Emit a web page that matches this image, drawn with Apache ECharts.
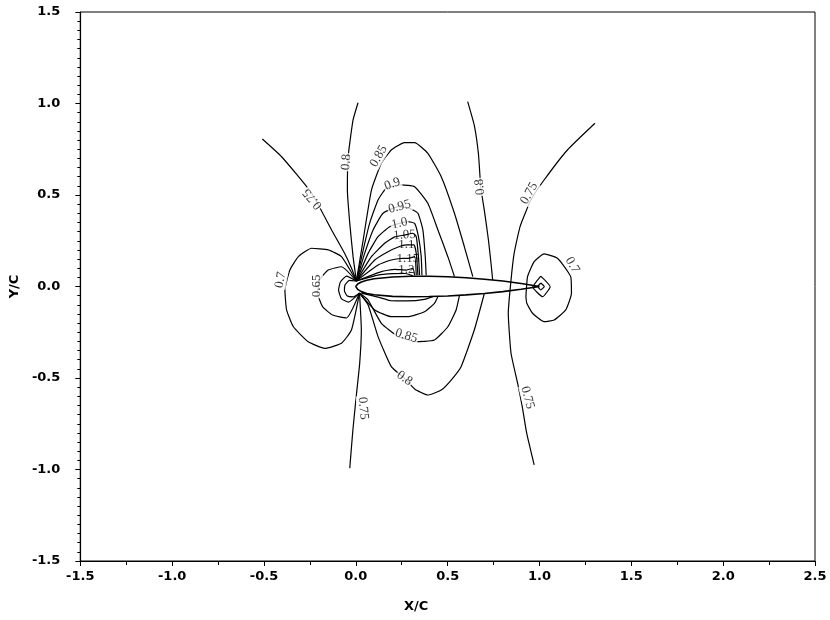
<!DOCTYPE html>
<html>
<head>
<meta charset="utf-8">
<script src="https://cdn.jsdelivr.net/npm/echarts/dist/echarts.min.js"></script>
<style>
  html, body { margin: 0; padding: 0; background: #fff; }
  #chart { width: 830px; height: 620px; }
</style>
</head>
<body>
<div id="chart"></div>
<script>
// axis ticks
var xTicks = [-1.5, 2.5, 0.5];
var yTicks = [-1.5, 1.5, 0.5];

// airfoil outline (TE -> upper -> LE -> lower -> TE)
var airfoil = [
  [1.0, 0], [0.9, 0.016], [0.8, 0.03], [0.7, 0.04], [0.6, 0.048], [0.5, 0.053], [0.4, 0.056],
  [0.3, 0.056], [0.2, 0.052], [0.1, 0.042], [0.06, 0.034], [0.03, 0.025], [0.01, 0.014], [0, 0],
  [0.01, -0.016], [0.03, -0.028], [0.06, -0.038], [0.1, -0.045], [0.2, -0.054], [0.3, -0.056],
  [0.4, -0.055], [0.5, -0.052], [0.6, -0.046], [0.7, -0.038], [0.8, -0.028], [0.9, -0.015], [1.0, 0]
];

// contour lines, upper side
var c075a = [[-0.509, 0.806], [-0.404, 0.709], [-0.241, 0.511], [-0.132, 0.309], [-0.062, 0.183], [-0.024, 0.101], [0.003, 0.03]];
var c080a = [[0.012, 1.004], [-0.015, 0.91], [-0.042, 0.709], [-0.046, 0.527], [-0.033, 0.345], [-0.015, 0.163], [0.003, 0.03]];
var c085a = [[0.003, 0.03], [0.04, 0.254], [0.085, 0.527], [0.139, 0.673], [0.193, 0.746], [0.265, 0.786], [0.32, 0.786],
  [0.392, 0.728], [0.465, 0.6], [0.537, 0.4], [0.591, 0.217], [0.637, 0.054]];
var c090a = [[0.003, 0.03], [0.04, 0.199], [0.075, 0.345], [0.121, 0.473], [0.166, 0.537], [0.247, 0.555], [0.32, 0.545],
  [0.392, 0.455], [0.447, 0.309], [0.501, 0.163], [0.537, 0.054]];
var c095a = [[0.003, 0.03], [0.048, 0.181], [0.094, 0.309], [0.148, 0.4], [0.23, 0.436], [0.293, 0.427], [0.338, 0.4],
  [0.365, 0.309], [0.378, 0.163], [0.383, 0.062]];
var c100a = [[0.003, 0.03], [0.067, 0.181], [0.121, 0.272], [0.182, 0.325], [0.238, 0.345], [0.284, 0.354], [0.32, 0.345],
  [0.341, 0.272], [0.356, 0.163], [0.36, 0.062]];
var c105a = [[0.003, 0.03], [0.085, 0.163], [0.157, 0.236], [0.209, 0.27], [0.265, 0.281], [0.311, 0.291], [0.329, 0.272],
  [0.341, 0.163], [0.347, 0.062]];
var c110a = [[0.003, 0.03], [0.103, 0.145], [0.175, 0.19], [0.231, 0.216], [0.275, 0.227], [0.316, 0.227], [0.329, 0.181],
  [0.338, 0.062]];
var c115a = [[0.003, 0.03], [0.121, 0.117], [0.193, 0.145], [0.242, 0.153], [0.284, 0.154], [0.32, 0.163], [0.329, 0.062]];
var c120a = [[0.003, 0.03], [0.139, 0.081], [0.211, 0.094], [0.275, 0.09], [0.311, 0.099], [0.32, 0.06]];
var c125a = [[0.003, 0.03], [0.12, 0.062], [0.2, 0.07], [0.27, 0.071], [0.31, 0.058]];
var c080c = [[0.609, 1.01], [0.645, 0.88], [0.668, 0.72], [0.68, 0.545], [0.702, 0.4], [0.722, 0.254], [0.736, 0.127], [0.745, 0.036]];
var c075c = [[1.302, 0.892], [1.152, 0.746], [1.025, 0.582], [0.953, 0.473], [0.895, 0.33], [0.862, 0.181], [0.845, 0.036],
  [0.83, -0.146], [0.845, -0.365], [0.881, -0.529], [0.905, -0.65], [0.93, -0.8], [0.971, -0.975]];

// contour lines, lower side
var c075b = [[0.02, -0.036], [0.03, -0.238], [0.021, -0.42], [0.003, -0.593], [-0.016, -0.784], [-0.033, -0.993]];
var c080b = [[0.02, -0.036], [0.067, -0.101], [0.121, -0.274], [0.193, -0.438], [0.265, -0.502], [0.32, -0.56], [0.392, -0.593],
  [0.465, -0.566], [0.519, -0.511], [0.573, -0.438], [0.645, -0.238], [0.7, -0.037]];
var c085b = [[0.02, -0.036], [0.067, -0.074], [0.139, -0.201], [0.23, -0.274], [0.275, -0.287], [0.32, -0.302], [0.428, -0.292],
  [0.501, -0.22], [0.546, -0.128], [0.564, -0.05]];
var c090b = [[0.02, -0.036], [0.103, -0.128], [0.193, -0.165], [0.284, -0.165], [0.374, -0.138], [0.428, -0.092], [0.447, -0.054]];
var c095b = [[0.03, -0.036], [0.121, -0.058], [0.193, -0.078], [0.284, -0.079], [0.374, -0.07], [0.42, -0.055]];

// loops round the leading edge
var c070L = [[0.003, 0.03], [-0.078, 0.163], [-0.15, 0.2], [-0.241, 0.209], [-0.313, 0.163], [-0.359, 0.09], [-0.386, -0.019],
  [-0.377, -0.128], [-0.34, -0.22], [-0.259, -0.302], [-0.169, -0.338], [-0.078, -0.31], [-0.024, -0.238], [0.02, -0.036]];
var c065L = [[0.003, 0.03], [-0.078, 0.108], [-0.15, 0.09], [-0.198, 0.036], [-0.208, -0.036], [-0.181, -0.11], [-0.127, -0.156],
  [-0.051, -0.172], [0.02, -0.036]];
var c060L = [[0.003, 0.03], [-0.051, 0.057], [-0.084, 0.025], [-0.094, -0.019], [-0.078, -0.068], [-0.04, -0.085], [0.02, -0.036]];
var c055L = [[0.003, 0.03], [-0.035, 0.033], [-0.059, 0.008], [-0.062, -0.025], [-0.046, -0.052], [-0.013, -0.057], [0.02, -0.036]];

// loops round the trailing edge
var c070R = [[0.926, -0.056], [0.935, 0.054], [0.971, 0.136], [1.025, 0.178], [1.098, 0.154], [1.17, 0.054], [1.174, -0.037],
  [1.143, -0.128], [1.08, -0.183], [1.025, -0.192], [0.962, -0.146], [0.931, -0.092], [0.926, -0.056]];
var c065R = [[1.007, 0.057], [1.058, -0.001], [1.017, -0.056], [0.964, -0.003], [1.007, 0.057]];
var c060R = [[1.007, 0.019], [1.026, 0], [1.007, -0.019], [0.991, 0], [1.007, 0.019]];

// contour labels
var labelText = ['0.75', '0.8', '0.85', '0.9', '0.95', '1.0', '1.05', '1.1', '1.15', '1.2',
  '0.8', '0.75', '0.7', '0.65', '0.7', '0.85', '0.8', '0.75', '0.75'];
var labelPos = [[-0.236, 0.478], [-0.052, 0.68], [0.124, 0.712], [0.199, 0.56], [0.238, 0.436], [0.238, 0.345],
  [0.265, 0.281], [0.275, 0.227], [0.284, 0.154], [0.275, 0.09],
  [0.676, 0.544], [0.944, 0.509], [-0.41, 0.036], [-0.214, 0.003], [1.179, 0.117],
  [0.275, -0.27], [0.265, -0.502], [0.04, -0.666], [0.935, -0.607]];
var labelAngle = [130, 85, 60, 20, 15, 12, 4, 0, 0, 0, 97, 60, 80, 90, -60, -17, -35, -85, -75];
var labelMask = [1, 1, 1, 1, 1, 1, 0, 0, 0, 0, 1, 1, 1, 1, 1, 1, 1, 1, 1];

var contours = [c075a, c080a, c085a, c090a, c095a, c100a, c105a, c110a, c115a, c120a, c125a, c080c, c075c,
  c075b, c080b, c085b, c090b, c095b, c070L, c065L, c060L, c055L, c070R, c065R, c060R];

var chart = echarts.init(document.getElementById('chart'));

var axisFont = { color: '#000', fontFamily: 'DejaVu Sans', fontWeight: 'bold', fontSize: 13 };

var series = contours.map(function(pts) {
  return {
    type: 'line',
    data: pts,
    showSymbol: false,
    smooth: 0.15,
    lineStyle: { color: '#000', width: 1.2 },
    silent: true,
    z: 2
  };
});

// airfoil
series.push({
  type: 'line',
  data: airfoil,
  showSymbol: false,
  lineStyle: { color: '#000', width: 1.6 },
  silent: true,
  z: 4
});

// contour labels
series.push({
  type: 'scatter',
  symbolSize: 0,
  silent: true,
  z: 5,
  data: labelText.map(function(t, i) {
    return {
      name: t,
      value: labelPos[i],
      label: {
        rotate: labelAngle[i],
        backgroundColor: labelMask[i] ? '#fff' : 'transparent'
      }
    };
  }),
  label: {
    show: true,
    position: 'inside',
    formatter: '{b}',
    color: '#000',
    fontFamily: 'Liberation Serif',
    fontSize: 13,
    padding: [0, 1]
  }
});

chart.setOption({
  animation: false,
  backgroundColor: '#fff',
  grid: {
    left: 78, top: 12, width: 737, height: 549,
    show: true, borderColor: '#000', borderWidth: 1
  },
  xAxis: {
    type: 'value',
    min: xTicks[0], max: xTicks[1], interval: xTicks[2],
    name: 'X/C',
    nameLocation: 'middle',
    nameGap: 39,
    nameTextStyle: Object.assign({ padding: [0, 63, 0, 0] }, axisFont),
    axisLine: { onZero: false, lineStyle: { color: '#000', width: 1.2 } },
    axisTick: { length: 5, lineStyle: { color: '#000' } },
    minorTick: { show: true, splitNumber: 2, length: 4, lineStyle: { color: '#000' } },
    splitLine: { show: false },
    axisLabel: Object.assign({ margin: 9, formatter: function(v) { return v.toFixed(1); } }, axisFont)
  },
  yAxis: {
    type: 'value',
    min: yTicks[0], max: yTicks[1], interval: yTicks[2],
    name: 'Y/C',
    nameLocation: 'middle',
    nameGap: 56,
    nameTextStyle: axisFont,
    axisLine: { onZero: false, lineStyle: { color: '#000', width: 1.2 } },
    axisTick: { length: 5, lineStyle: { color: '#000' } },
    minorTick: { show: true, splitNumber: 10, length: 3, lineStyle: { color: '#000' } },
    splitLine: { show: false },
    axisLabel: Object.assign({ margin: 20, formatter: function(v) { return v.toFixed(1); } }, axisFont)
  },
  series: series
});
</script>
</body>
</html>
